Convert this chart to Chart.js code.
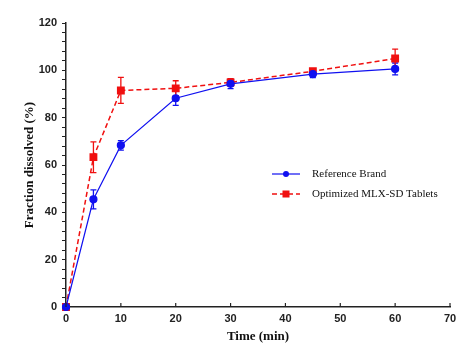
<!DOCTYPE html>
<html>
<head>
<meta charset="utf-8">
<script src="https://cdn.jsdelivr.net/npm/chart.js@4.4.1/dist/chart.umd.min.js"></script>
<style>
  html, body { margin: 0; padding: 0; background: #fff; }
  #wrap { width: 474px; height: 352px; }
</style>
</head>
<body>
<div id="wrap"><canvas id="dissolutionChart" width="474" height="352"></canvas></div>
<script>
// values
const timeMin = [0, 5, 10, 20, 30, 45, 60];
const refBrand = [0, 45.5, 68.3, 88.2, 94.3, 98.4, 100.6];
const refErr = [0, 4, 2, 3, 2, 1.5, 2.5];
const optimized = [0, 63.3, 91.5, 92.4, 94.9, 99.6, 105];
const optErr = [0, 6.5, 5.5, 3.2, 1.6, 1, 4];
const xTicks = [0, 10, 20, 30, 40, 50, 60, 70];

const BLUE = '#1010f0';
const RED = '#f01010';

function toPoints(xs, ys, errs) {
    return xs.map((x, i) => ({ x: x, y: ys[i], err: errs[i] }));
}

// error bars, drawn through the scales
const errorBars = {
    id: 'errorBars',
    beforeDatasetsDraw(chart) {
        const ctx = chart.ctx;
        const xs = chart.scales.x, ys = chart.scales.y;
        chart.data.datasets.forEach(ds => {
            ctx.save();
            ctx.strokeStyle = ds.borderColor;
            ctx.lineWidth = 1.3;
            ds.data.forEach(p => {
                if (!p.err) return;
                const px = xs.getPixelForValue(p.x);
                const top = ys.getPixelForValue(p.y + p.err);
                const bot = ys.getPixelForValue(p.y - p.err);
                ctx.beginPath();
                ctx.moveTo(px, top); ctx.lineTo(px, bot);
                ctx.moveTo(px - 3, top); ctx.lineTo(px + 3, top);
                ctx.moveTo(px - 3, bot); ctx.lineTo(px + 3, bot);
                ctx.stroke();
            });
            ctx.restore();
        });
    }
};

// x ticks point inward (up), like the original
const innerTicks = {
    id: 'innerTicks',
    afterDraw(chart) {
        const ctx = chart.ctx;
        const xs = chart.scales.x;
        const yb = chart.chartArea.bottom;
        ctx.save();
        ctx.strokeStyle = '#222';
        ctx.lineWidth = 1.2;
        xTicks.forEach(v => {
            const px = xs.getPixelForValue(v);
            ctx.beginPath();
            ctx.moveTo(px, yb);
            ctx.lineTo(px, yb - 4);
            ctx.stroke();
        });
        ctx.restore();
    }
};

// legend sits inside the plot area
const innerLegend = {
    id: 'innerLegend',
    afterDraw(chart) {
        const ctx = chart.ctx;
        const x0 = 272, x1 = 300, tx = 312;
        const rows = [174, 194];
        ctx.save();
        chart.data.datasets.forEach((ds, i) => {
            const y = rows[i];
            ctx.strokeStyle = ds.borderColor;
            ctx.lineWidth = ds.borderWidth;
            ctx.setLineDash(ds.borderDash || []);
            ctx.beginPath();
            ctx.moveTo(x0, y); ctx.lineTo(x1, y);
            ctx.stroke();
            ctx.setLineDash([]);
            ctx.fillStyle = ds.pointBackgroundColor;
            const mx = (x0 + x1) / 2;
            if (ds.pointStyle === 'rect') {
                ctx.fillRect(mx - 3.5, y - 3.5, 7, 7);
            } else {
                ctx.beginPath();
                ctx.arc(mx, y, 3, 0, Math.PI * 2);
                ctx.fill();
            }
            ctx.fillStyle = '#111';
            ctx.font = '11px "Liberation Serif", "Times New Roman", serif';
            ctx.textBaseline = 'middle';
            ctx.textAlign = 'left';
            ctx.fillText(ds.label, tx, y);
        });
        ctx.restore();
    }
};

const tickFont = { family: '"Liberation Sans", Arial, sans-serif', size: 11, weight: 'bold' };
const titleFont = { family: '"Liberation Serif", "Times New Roman", serif', size: 13, weight: 'bold' };

new Chart(document.getElementById('dissolutionChart'), {
    type: 'line',
    data: {
        datasets: [{
            label: 'Reference Brand',
            data: toPoints(timeMin, refBrand, refErr),
            borderColor: BLUE,
            backgroundColor: BLUE,
            pointBackgroundColor: BLUE,
            pointBorderColor: BLUE,
            borderWidth: 1.2,
            pointStyle: 'circle',
            pointRadius: 3.5,
            clip: false
        }, {
            label: 'Optimized MLX-SD Tablets',
            data: toPoints(timeMin, optimized, optErr),
            borderColor: RED,
            backgroundColor: RED,
            pointBackgroundColor: RED,
            pointBorderColor: RED,
            borderWidth: 1.5,
            borderDash: [5, 3],
            pointStyle: 'rect',
            pointRadius: 4.5,
            clip: false
        }]
    },
    options: {
        responsive: false,
        animation: false,
        events: [],
        layout: { padding: { left: 0, top: 23, right: 24, bottom: 0 } },
        plugins: { legend: { display: false }, tooltip: { enabled: false } },
        scales: {
            x: {
                type: 'linear',
                min: 0, max: 70,
                afterFit(s) { s.height = 45; },
                afterBuildTicks(s) { s.ticks = xTicks.map(v => ({ value: v })); },
                grid: { display: true, drawOnChartArea: false, drawTicks: false },
                border: { display: true, color: '#222', width: 1.5 },
                ticks: { font: tickFont, color: '#222', padding: 5, maxRotation: 0 },
                title: {
                    display: true, text: 'Time (min)', font: titleFont, color: '#111',
                    padding: { top: 0, bottom: 8 }
                }
            },
            y: {
                min: 0, max: 120,
                afterFit(s) { s.width = 66; },
                grid: { display: true, drawOnChartArea: false, drawTicks: true, tickLength: 4, color: '#222', tickWidth: 1 },
                border: { display: true, color: '#222', width: 1.5 },
                ticks: {
                    stepSize: 4,
                    font: tickFont, color: '#222', padding: 5,
                    autoSkip: false,
                    callback: v => (v % 20 === 0 ? v : '')
                },
                title: {
                    display: true, text: 'Fraction dissolved (%)', font: titleFont, color: '#111',
                    padding: { top: 22, bottom: 0 }
                }
            }
        }
    },
    plugins: [errorBars, innerTicks, innerLegend]
});
</script>
</body>
</html>
